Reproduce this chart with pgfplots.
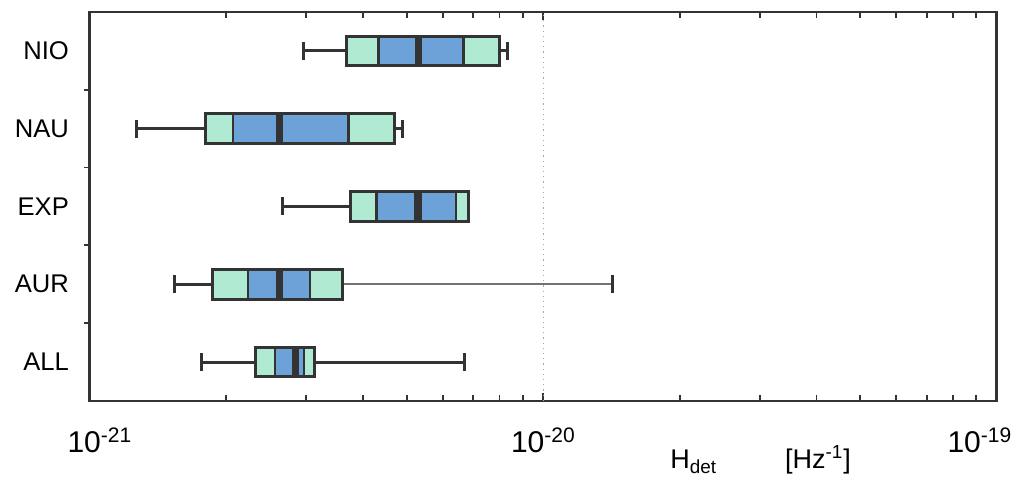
\documentclass[border=0pt]{standalone}
\usepackage{pgfplots}
\pgfplotsset{compat=1.18}
\usepackage{fontspec}
\setmainfont{Liberation Sans}
\definecolor{boxgreen}{HTML}{B0EAD3}
\definecolor{boxblue}{HTML}{6DA2D8}
\definecolor{boxedge}{HTML}{333333}
\newcommand\dbox[8]{% #1 y, #2 whisker lo, #3 box lo, #4 q1, #5 median, #6 q3, #7 box hi, #8 whisker hi
  \pgfmathsetmacro\ylo{#1-0.19}\pgfmathsetmacro\yhi{#1+0.19}%
  \addplot[boxedge, line width=1.5pt, mark=|, mark size=4.5pt, mark options={line width=1.5pt}] coordinates {(#2,#1) (#3,#1)};
  \addplot[boxedge, line width=1.5pt, mark=|, mark size=4.5pt, mark options={line width=1.5pt}] coordinates {(#7,#1) (#8,#1)};
  \addplot[fill=boxgreen, draw=boxedge, line width=1.2pt] coordinates {(#3,\ylo) (#7,\ylo) (#7,\yhi) (#3,\yhi)} -- cycle;
  \addplot[fill=boxblue, draw=boxedge, line width=1.2pt] coordinates {(#4,\ylo) (#6,\ylo) (#6,\yhi) (#4,\yhi)} -- cycle;
  \addplot[boxedge, line width=3.6pt] coordinates {(#5,\ylo) (#5,\yhi)};
  \addplot[draw=boxedge, line width=1.5pt] coordinates {(#3,\ylo) (#7,\ylo) (#7,\yhi) (#3,\yhi)} -- cycle;
}
\begin{document}
\begin{tikzpicture}
\begin{axis}[
  scale only axis,
  width=453.5pt, height=194.5pt,
  xmode=log,
  xmin=1e-21, xmax=1e-19,
  ymin=0.5, ymax=5.5,
  axis line style={draw=black!80, line width=1.4pt},
  xtick={1e-21,1e-20,1e-19},
  xticklabels={\hspace*{10pt}10\textsuperscript{-21},10\textsuperscript{-20},10\textsuperscript{-19}\hspace*{17pt}},
  x tick label style={font=\fontsize{15}{17}\selectfont, anchor=base, yshift=-26pt},
  minor x tick num=8,
  xtick align=inside,
  major tick length=4pt, minor tick length=3pt,
  tick style={draw=black!80, line width=0.9pt},
  ytick={1,2,3,4,5},
  yticklabels={ALL,AUR,EXP,NAU,NIO},
  y tick label style={font=\fontsize{12.8}{14}\selectfont, xshift=-3pt},
  minor ytick={1.5,2.5,3.5,4.5},
  major y tick style={draw=none},
  ytick align=outside,
  ytick pos=left,
  xlabel={H\textsubscript{det}\hspace{34pt}[Hz\textsuperscript{-1}]},
  xlabel style={font=\fontsize{13.5}{15}\selectfont, at={(axis description cs:0.6395,0)}, anchor=base west, yshift=-34pt, inner sep=0pt},
  clip=false,
]
\addplot[black!35, dotted, line width=0.6pt] coordinates {(1e-20,0.5) (1e-20,5.5)};
\dbox{5}{2.96e-21}{3.68e-21}{4.33e-21}{5.31e-21}{6.67e-21}{8.01e-21}{8.35e-21}
\dbox{4}{1.27e-21}{1.80e-21}{2.07e-21}{2.62e-21}{3.72e-21}{4.70e-21}{4.89e-21}
\dbox{3}{2.66e-21}{3.75e-21}{4.29e-21}{5.29e-21}{6.41e-21}{6.83e-21}{6.83e-21}
\addplot[black!55, line width=1pt, mark=|, mark size=4.5pt, mark options={draw=boxedge, line width=1.5pt}] coordinates {(3.61e-21,2) (1.42e-20,2)};
\dbox{2}{1.54e-21}{1.86e-21}{2.23e-21}{2.62e-21}{3.06e-21}{3.61e-21}{3.61e-21}
\dbox{1}{1.76e-21}{2.32e-21}{2.56e-21}{2.84e-21}{2.97e-21}{3.13e-21}{6.71e-21}
\end{axis}
\pgfresetboundingbox
\path[use as bounding box] ([shift={(-45pt,-39.5pt)}]current axis.south west) rectangle ([shift={(9.5pt,6pt)}]current axis.north east);
\end{tikzpicture}
\end{document}
